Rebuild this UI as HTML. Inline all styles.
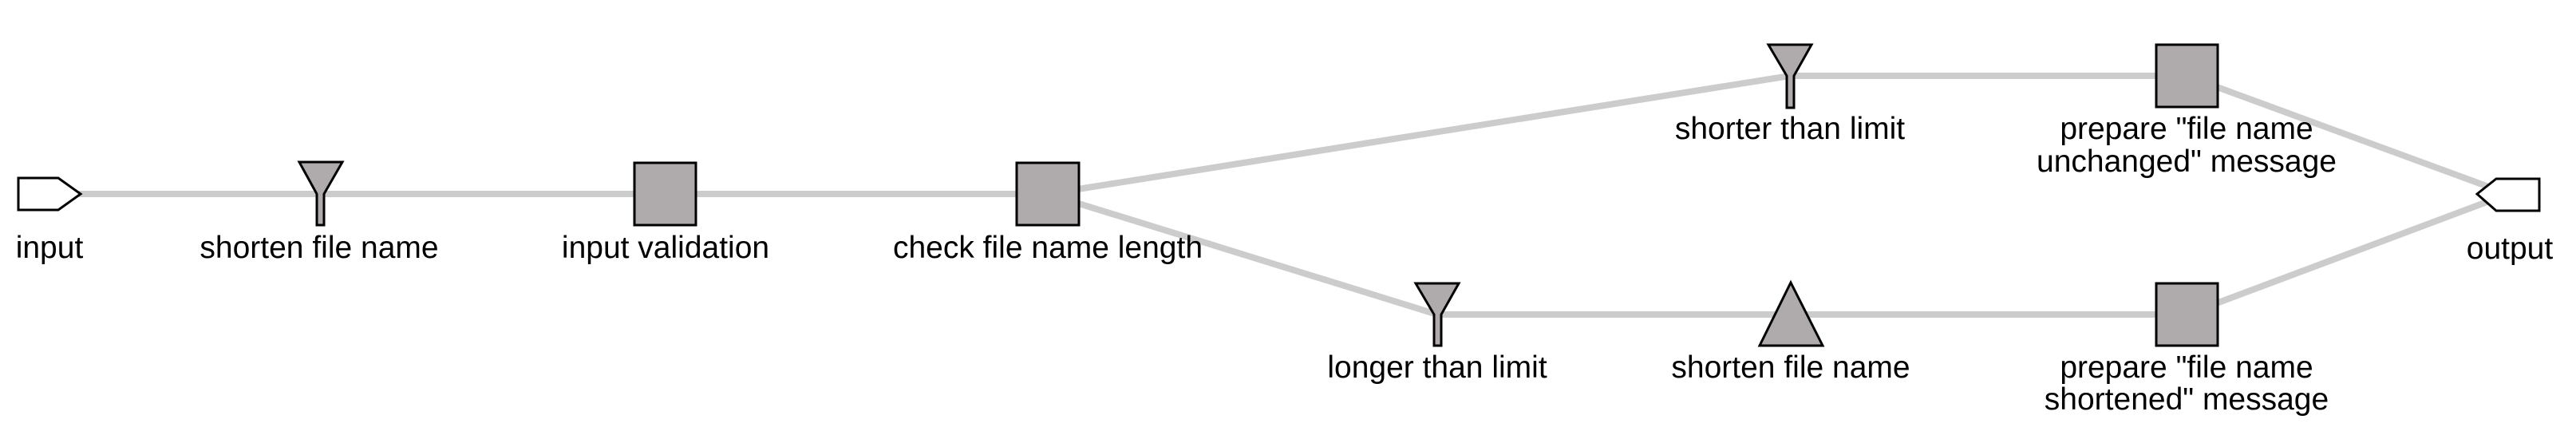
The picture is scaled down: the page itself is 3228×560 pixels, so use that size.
<!DOCTYPE html>
<html><head><meta charset="utf-8"><style>html,body{margin:0;padding:0;background:#fff;}svg{display:block}</style></head>
<body>
<svg width="3228" height="560" viewBox="0 0 3228 560" xmlns="http://www.w3.org/2000/svg">
<g stroke="#cccccc" stroke-width="8" fill="none">
<line x1="62" y1="243" x2="1313" y2="243"/>
<line x1="1313" y1="243" x2="2243" y2="95"/>
<line x1="1313" y1="243" x2="1801" y2="394"/>
<line x1="2243" y1="95" x2="2740" y2="95"/>
<line x1="1801" y1="394" x2="2740" y2="394"/>
<line x1="2740" y1="95" x2="3143" y2="243"/>
<line x1="2740" y1="394" x2="3143" y2="243"/>
</g>
<g stroke="#000" stroke-width="3" fill="#afaaab">
<polygon points="23,223 73,223 101,243 73,263 23,263" fill="#fff"/>
<polygon points="3182,224 3128,224 3104,243 3128,264 3182,264" fill="#fff"/>
<polygon points="375,203 429,203 406,243 406,282 397,282 397,243"/>
<rect x="795" y="204" width="77" height="78"/>
<rect x="1274" y="204" width="78" height="78"/>
<polygon points="2216,56 2270,56 2248,95 2248,135 2239,135 2239,95"/>
<rect x="2702" y="56" width="77" height="78"/>
<polygon points="1774,355 1828,355 1806,394 1806,433 1797,433 1797,394"/>
<polygon points="2244,354 2284,433 2205,433"/>
<rect x="2702" y="355" width="77" height="78"/>
</g>
<g font-family="'Liberation Sans', sans-serif" font-size="39" fill="#000" text-anchor="middle">
<text x="62" y="323">input</text>
<text x="400" y="323">shorten file name</text>
<text x="834" y="323">input validation</text>
<text x="1313" y="323">check file name length</text>
<text x="2243" y="174">shorter than limit</text>
<text x="2740" y="174">prepare "file name</text>
<text x="2740" y="215">unchanged" message</text>
<text x="3145" y="324">output</text>
<text x="1801" y="473">longer than limit</text>
<text x="2244" y="473">shorten file name</text>
<text x="2740" y="473">prepare "file name</text>
<text x="2740" y="513">shortened" message</text>
</g>
</svg>
</body></html>
